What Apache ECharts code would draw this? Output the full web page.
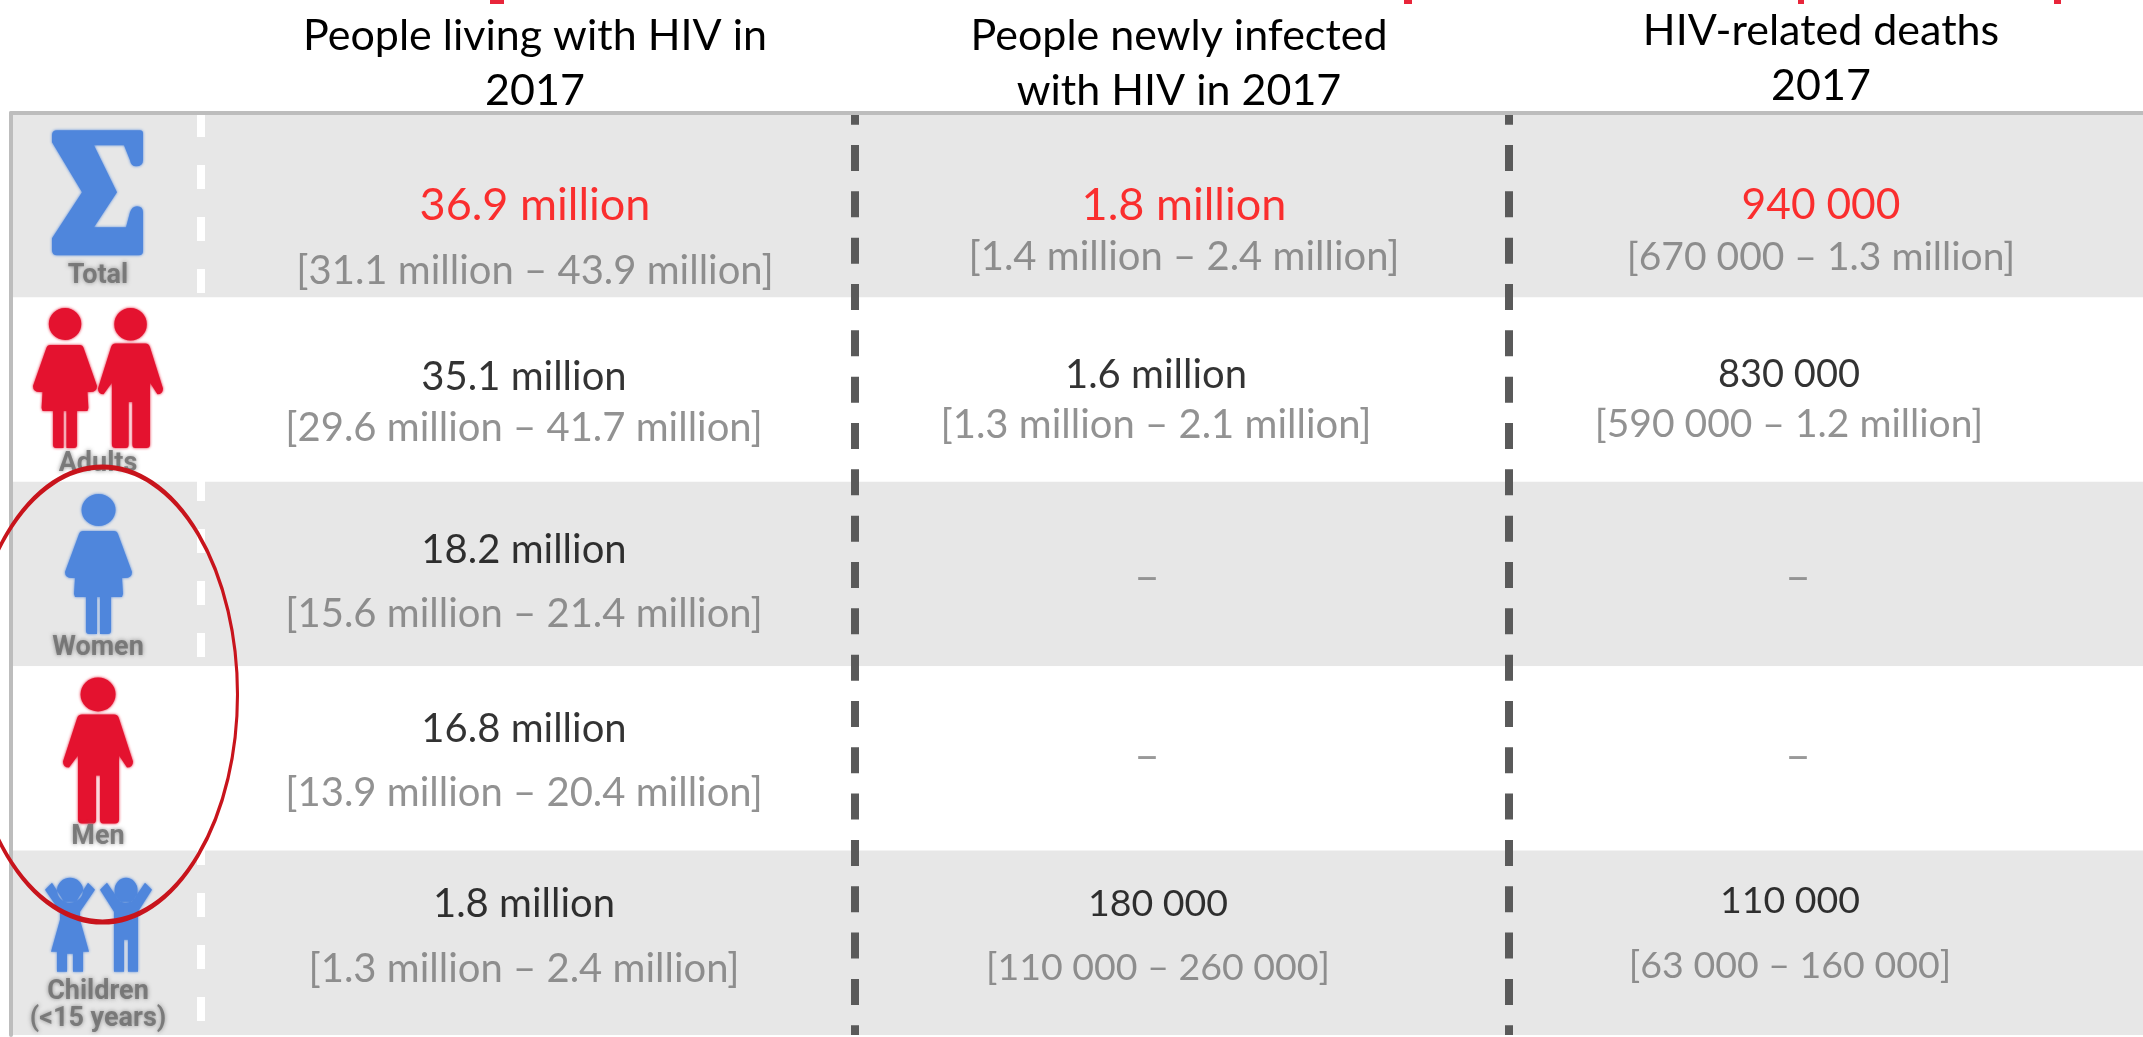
<!DOCTYPE html>
<html><head><meta charset="utf-8">
<style>html,body{margin:0;padding:0;background:#fff}#c{width:2143px;height:1037px}</style>
<script src="https://cdn.jsdelivr.net/npm/echarts@6/dist/echarts.min.js"></script></head>
<body><div id="c"></div>
<script>
// ---- data ----
const rows = ['Total','Adults','Women','Men','Children'];
const rowLabels = ['Total','Adults','Women','Men','Children\n(<15 years)'];
const columns = ['People living with HIV in\n2017','People newly infected\nwith HIV in 2017','HIV-related deaths\n2017'];
const livingMain = ['36.9 million','35.1 million','18.2 million','16.8 million','1.8 million'];
const livingRange = ['[31.1 million – 43.9 million]','[29.6 million – 41.7 million]','[15.6 million – 21.4 million]','[13.9 million – 20.4 million]','[1.3 million – 2.4 million]'];
const newMain = ['1.8 million','1.6 million','–','–','180 000'];
const newRange = ['[1.4 million – 2.4 million]','[1.3 million – 2.1 million]','','','[110 000 – 260 000]'];
const deathsMain = ['940 000','830 000','–','–','110 000'];
const deathsRange = ['[670 000 – 1.3 million]','[590 000 – 1.2 million]','','','[63 000 – 160 000]'];

// ---- layout (pixel nudges and font sizes for each table cell) ----
const mainDx = [[7,-4,-4,-4,-4],[2,-26,-35,-35,-24],[-15,-47,-38,-38,-46]];
const mainDy = [[0,-13,-24,-29,-39],[0,-15,4,-2,-39],[0,-15,4,-2,-42]];
const mainSize = [[45,40,40,40,40],[45,40,44,44,37.500],[42.500,38,44,44,37.500]];
const rangeDx = [[7,-4,-4,-4,-4],[2,-26,0,0,-24],[-15,-47,0,0,-46]];
const rangeDy = [[66,38,40,35,26],[52,35,0,0,25],[52,35,0,0,23]];
const rangeSize = [[40,40,40,40,40],[40,40,40,40,37.500],[39,39,40,40,37.500]];
const headerPad = [[0,0,0,14],[0,6,0,0],[0,30,5,0]];
const BLUE='#4f86dc', RED='#e4122f';
const P = {
 sigma:'path://M5 0L88 0Q91 0 91 3L91 30Q91 36 84 36Q79 36 78 30L72 15L42 15L65 62L42 97L74 97L78 82Q80 76 85 76Q91 76 91 82L91 121Q91 125 87 125L5 125Q0 125 0 120L0 108L30 62L0 12L0 5Q0 0 5 0Z',
 woman:'path://M33.5 0a17 16 0 1 0 .1 0zM18 37L49 37Q52 37 53 40L67 78Q67 84 60 84L57 84L58 100L57 103L46 103L46 137Q46 140 43 140L35 140L35 103L32 103L32 140L24 140Q21 140 21 137L21 103L10 103L9 100L10 84L7 84Q0 84 0 78L14 40Q15 37 18 37Z',
 man:'path://M35 0a17.500 17 0 1 0 .1 0zM19 37L51 37Q55 37 56 41L70 84Q70 90 64 90L56 78L56 142Q56 146 52 146L40 146Q37 146 37 142L37 98L33 98L33 142Q33 146 30 146L19 146Q15 146 15 142L15 78L6 90Q0 90 0 84L14 41Q15 37 19 37Z',
 girl:'path://M25 0a13 12.500 0 1 0 .1 0zM0 12L7 5L19 24L31 24L43 5L50 12L35 34L35 42L44 74L38 74L38 94L28 94L28 76L22 76L22 94L12 94L12 74L6 74L15 42L15 34Z',
 boy:'path://M26 0a11.500 12.500 0 1 0 .1 0zM0 12L7 5L20 24L32 24L45 5L52 12L38 34L38 94L28 94L28 62L24 62L24 94L14 94L14 34Z'
};
const icons = [
 {row:'Total',symbol:P.sigma,size:[91,125],off:[-8.5,-12.5],color:BLUE},
 {row:'Adults',symbol:P.woman,size:[64,140],off:[-41,-11.6],color:RED},
 {row:'Adults',symbol:P.man,size:[65,140],off:[24.500,-11.6],color:RED},
 {row:'Women',symbol:P.woman,size:[67,140],off:[-7.500,-10],color:BLUE},
 {row:'Men',symbol:P.man,size:[70,146],off:[-8,-8],color:RED},
 {row:'Children',symbol:P.girl,size:[50,94],off:[-36,-18],color:BLUE},
 {row:'Children',symbol:P.boy,size:[52,94],off:[20,-18],color:BLUE}
];
const labelDy = [71,75,74,79,63];
const ICON='icons';
const FONT='Lato';
const titleRemnants = [[490,0,14,4],[1404,0,8,4],[1798,0,6,4],[2054,0,7,4]];

function textSeries(name, cols, sizes, colorOf, dxs, dys){
  const data=[];
  cols.forEach((arr,c)=>arr.forEach((t,r)=>{
    if(!t) return;
    data.push({value:[columns[c],rows[r]],
      label:{formatter:t,offset:[dxs[c][r],dys[c][r]],fontSize:sizes[c][r],color:colorOf(r,t)}});
  }));
  return {type:'scatter',name,xAxisIndex:1,yAxisIndex:1,symbolSize:0,silent:true,z:5,
    label:{show:true,position:'inside',align:'center',verticalAlign:'middle',fontFamily:FONT},data};
}
const series=[
 textSeries('values',[livingMain,newMain,deathsMain],mainSize,
   (r,t)=>t==='–'?'#808080':(r===0?'#ff0000':'#000'), mainDx, mainDy),
 textSeries('ranges',[livingRange,newRange,deathsRange],rangeSize,
   ()=>'#777777', rangeDx, rangeDy),
 {type:'scatter',name:'icons',xAxisIndex:0,yAxisIndex:0,silent:true,z:3,
  data:icons.map(i=>({value:[ICON,i.row],symbol:i.symbol,symbolSize:i.size,symbolOffset:i.off,symbolKeepAspect:false,
    itemStyle:{color:i.color,opacity:1,shadowColor:i.color,shadowBlur:3}}))},
 {type:'scatter',name:'rowLabels',xAxisIndex:0,yAxisIndex:0,symbolSize:0,silent:true,z:4,
  label:{show:true,position:'inside',align:'center',verticalAlign:'middle',fontFamily:'Roboto',fontWeight:'bold',fontSize:27,lineHeight:27,
     color:'#6a6a6a',textShadowColor:'#777',textShadowBlur:4},
  data:rows.map((r,i)=>({value:[ICON,r],label:{formatter:rowLabels[i],offset:[-8,labelDy[i]]}}))},
 {type:'scatter',name:'highlight',xAxisIndex:0,yAxisIndex:0,silent:true,z:6,
  data:[{value:[ICON,'Women'],symbol:'circle',symbolSize:[270,455],symbolOffset:[-3.5,120.5],
    itemStyle:{color:'rgba(0,0,0,0)',opacity:1,borderColor:'#c8141c',borderWidth:4}}]}
];
const yAxisBase={type:'category',data:rows,inverse:true,axisTick:{show:false},axisLabel:{show:false},
  splitArea:{show:true,areaStyle:{color:['#e7e7e7','#ffffff']}},splitLine:{show:false}};
const chart=echarts.init(document.getElementById('c'),null,{renderer:'canvas'});
chart.setOption({
 animation:false,backgroundColor:'#fff',
 grid:[{left:11,top:113,width:190,height:922,outerBoundsMode:'none'},{left:201,top:113,width:1962,height:922,outerBoundsMode:'none'}],
 xAxis:[
  {type:'category',gridIndex:0,data:[ICON],position:'top',axisTick:{show:false},axisLabel:{show:false},
   axisLine:{show:true,lineStyle:{color:'#bdbdbd',width:4}},
   splitLine:{show:true,lineStyle:{color:['rgba(0,0,0,0)','#ffffff'],width:8,type:[24,28],dashOffset:0}}},
  {type:'category',gridIndex:1,position:'top',axisTick:{show:false},
   data:columns.map((c,i)=>({value:c,textStyle:{padding:headerPad[i]}})),
   axisLine:{show:true,lineStyle:{color:'#bdbdbd',width:4}},
   axisLabel:{show:true,interval:0,margin:-6,fontFamily:FONT,fontSize:43,lineHeight:55,color:'#000',align:'center',verticalAlign:'bottom'},
   splitLine:{show:true,lineStyle:{color:['rgba(0,0,0,0)','#5a5a5a','#5a5a5a','#5a5a5a'],width:8,type:[26,20.33],dashOffset:14.33}}}
 ],
 yAxis:[
  Object.assign({gridIndex:0,axisLine:{show:true,lineStyle:{color:'#bdbdbd',width:4}}},yAxisBase),
  Object.assign({gridIndex:1,axisLine:{show:false}},yAxisBase)
 ],
 graphic:titleRemnants.map(r=>({type:'rect',shape:{x:r[0],y:r[1],width:r[2],height:r[3]},style:{fill:'#e8253a'},silent:true})),
 series
});
</script></body></html>
